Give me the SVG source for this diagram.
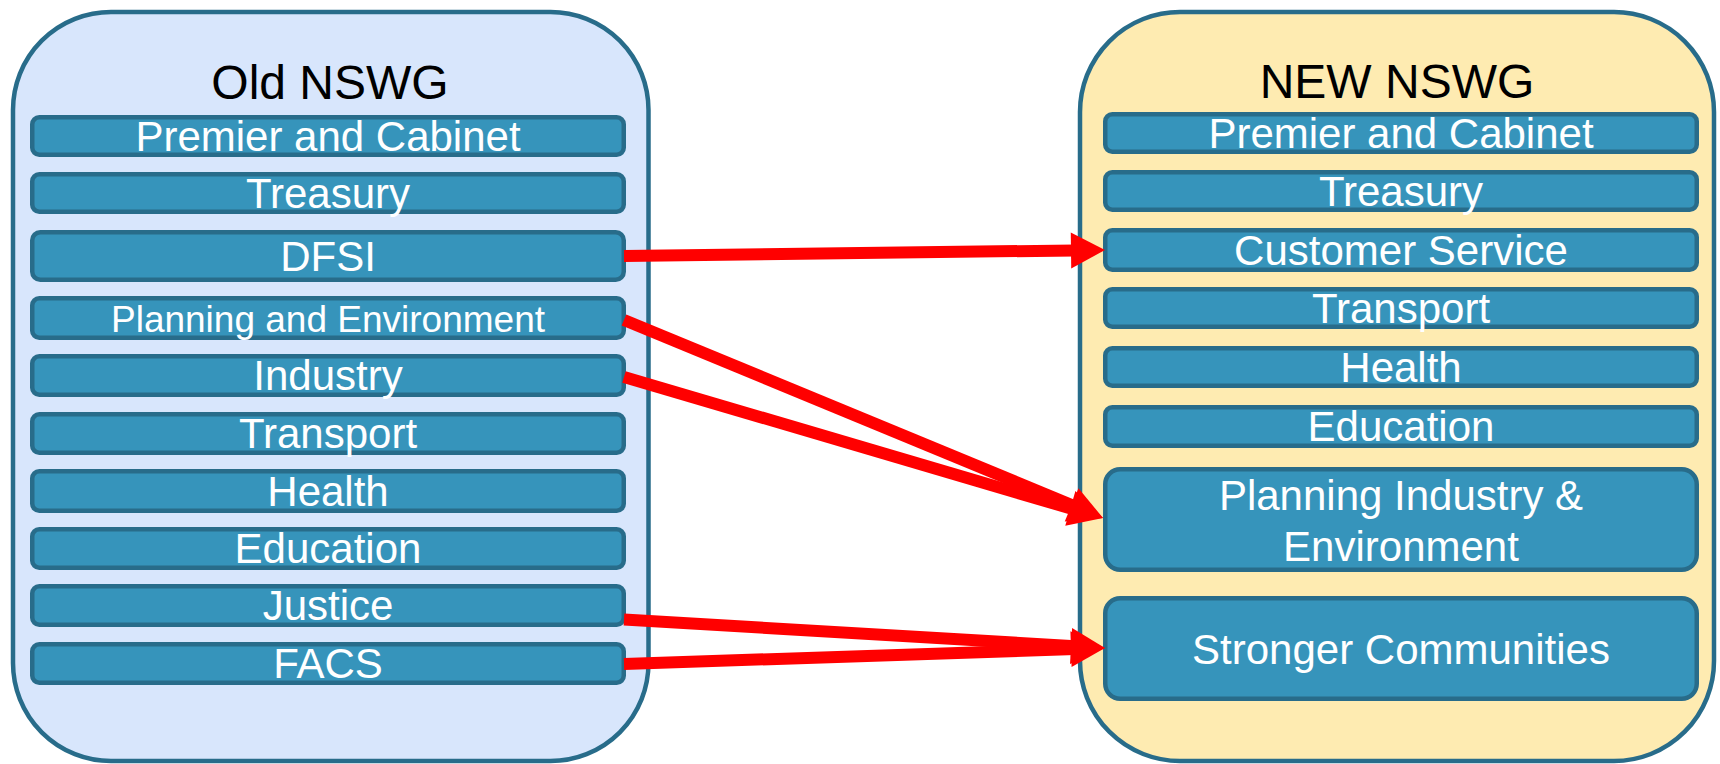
<svg xmlns="http://www.w3.org/2000/svg" width="1720" height="764" viewBox="0 0 1720 764">
  <style>
    .cont { stroke: #286c8a; stroke-width: 4.5; }
    .old { fill: #d8e6fc; }
    .new { fill: #feebb1; }
    .box { fill: #3694bb; stroke: #286c8a; stroke-width: 4.5; }
    .title { font-family: "Liberation Sans", Arial, sans-serif; font-size: 48px; fill: #000000; text-anchor: middle; }
    .lbl { font-family: "Liberation Sans", Arial, sans-serif; font-size: 42px; fill: #ffffff; text-anchor: middle; }
    .sm { font-size: 37px; }
    .conn { stroke: #ff0000; stroke-width: 12; fill: none; marker-end: url(#arrow); }
  </style>
  <defs>
    <marker id="arrow" markerUnits="userSpaceOnUse" markerWidth="36" markerHeight="36" refX="4" refY="18" orient="auto" overflow="visible">
      <path d="M0,0 L34,18 L0,36 Z" fill="#ff0000"/>
    </marker>
  </defs>

  <g id="old-nswg">
    <rect class="cont old" x="13" y="12" width="635.5" height="749" rx="98" ry="98"/>
    <text class="title" x="330" y="99">Old NSWG</text>
  </g>
  <g id="new-nswg">
    <rect class="cont new" x="1080" y="12" width="634" height="749" rx="100" ry="100"/>
    <text class="title" x="1397" y="98">NEW NSWG</text>
  </g>

  <g id="old-premier"><rect class="box" x="32.25" y="117.25" width="591.5" height="37.5" rx="7"/><text class="lbl" x="328" y="151">Premier and Cabinet</text></g>
  <g id="old-treasury"><rect class="box" x="32.25" y="174.25" width="591.5" height="37.5" rx="7"/><text class="lbl" x="328" y="208">Treasury</text></g>
  <g id="old-dfsi"><rect class="box" x="32.25" y="232.25" width="591.5" height="47.5" rx="8"/><text class="lbl" x="328" y="271">DFSI</text></g>
  <g id="old-planning"><rect class="box" x="32.25" y="298.25" width="591.5" height="39.5" rx="7"/><text class="lbl sm" x="328" y="332">Planning and Environment</text></g>
  <g id="old-industry"><rect class="box" x="32.25" y="356.25" width="591.5" height="38.5" rx="7"/><text class="lbl" x="328" y="390">Industry</text></g>
  <g id="old-transport"><rect class="box" x="32.25" y="414.25" width="591.5" height="38.5" rx="7"/><text class="lbl" x="328" y="448">Transport</text></g>
  <g id="old-health"><rect class="box" x="32.25" y="471.25" width="591.5" height="39.5" rx="7"/><text class="lbl" x="328" y="506">Health</text></g>
  <g id="old-education"><rect class="box" x="32.25" y="529.25" width="591.5" height="38.5" rx="7"/><text class="lbl" x="328" y="563">Education</text></g>
  <g id="old-justice"><rect class="box" x="32.25" y="586.25" width="591.5" height="38.5" rx="7"/><text class="lbl" x="328" y="620">Justice</text></g>
  <g id="old-facs"><rect class="box" x="32.25" y="644.25" width="591.5" height="38.5" rx="7"/><text class="lbl" x="328" y="678">FACS</text></g>

  <g id="new-premier"><rect class="box" x="1105.25" y="114.25" width="591.5" height="37.5" rx="7"/><text class="lbl" x="1401" y="148">Premier and Cabinet</text></g>
  <g id="new-treasury"><rect class="box" x="1105.25" y="172.25" width="591.5" height="37.5" rx="7"/><text class="lbl" x="1401" y="206">Treasury</text></g>
  <g id="new-customer"><rect class="box" x="1105.25" y="230.25" width="591.5" height="39.5" rx="7"/><text class="lbl" x="1401" y="265">Customer Service</text></g>
  <g id="new-transport"><rect class="box" x="1105.25" y="289.25" width="591.5" height="37.5" rx="7"/><text class="lbl" x="1401" y="323">Transport</text></g>
  <g id="new-health"><rect class="box" x="1105.25" y="348.25" width="591.5" height="37.5" rx="7"/><text class="lbl" x="1401" y="382">Health</text></g>
  <g id="new-education"><rect class="box" x="1105.25" y="407.25" width="591.5" height="38.5" rx="7"/><text class="lbl" x="1401" y="441">Education</text></g>
  <g id="new-pie"><rect class="box" x="1105.25" y="469.25" width="591.5" height="100.5" rx="15"/><text class="lbl" x="1401" y="510">Planning Industry &amp;</text><text class="lbl" x="1401" y="561">Environment</text></g>
  <g id="new-stronger"><rect class="box" x="1105.25" y="598.25" width="591.5" height="100.5" rx="15"/><text class="lbl" x="1401" y="664">Stronger Communities</text></g>

  <g id="connectors">
    <line class="conn" x1="624" y1="256" x2="1075" y2="250.4"/>
    <line class="conn" x1="624" y1="320" x2="1075.3" y2="506.5"/>
    <line class="conn" x1="624" y1="377" x2="1074.2" y2="509.5"/>
    <line class="conn" x1="624" y1="619.5" x2="1075.05" y2="646.2"/>
    <line class="conn" x1="624" y1="664" x2="1075" y2="649"/>
  </g>
</svg>
